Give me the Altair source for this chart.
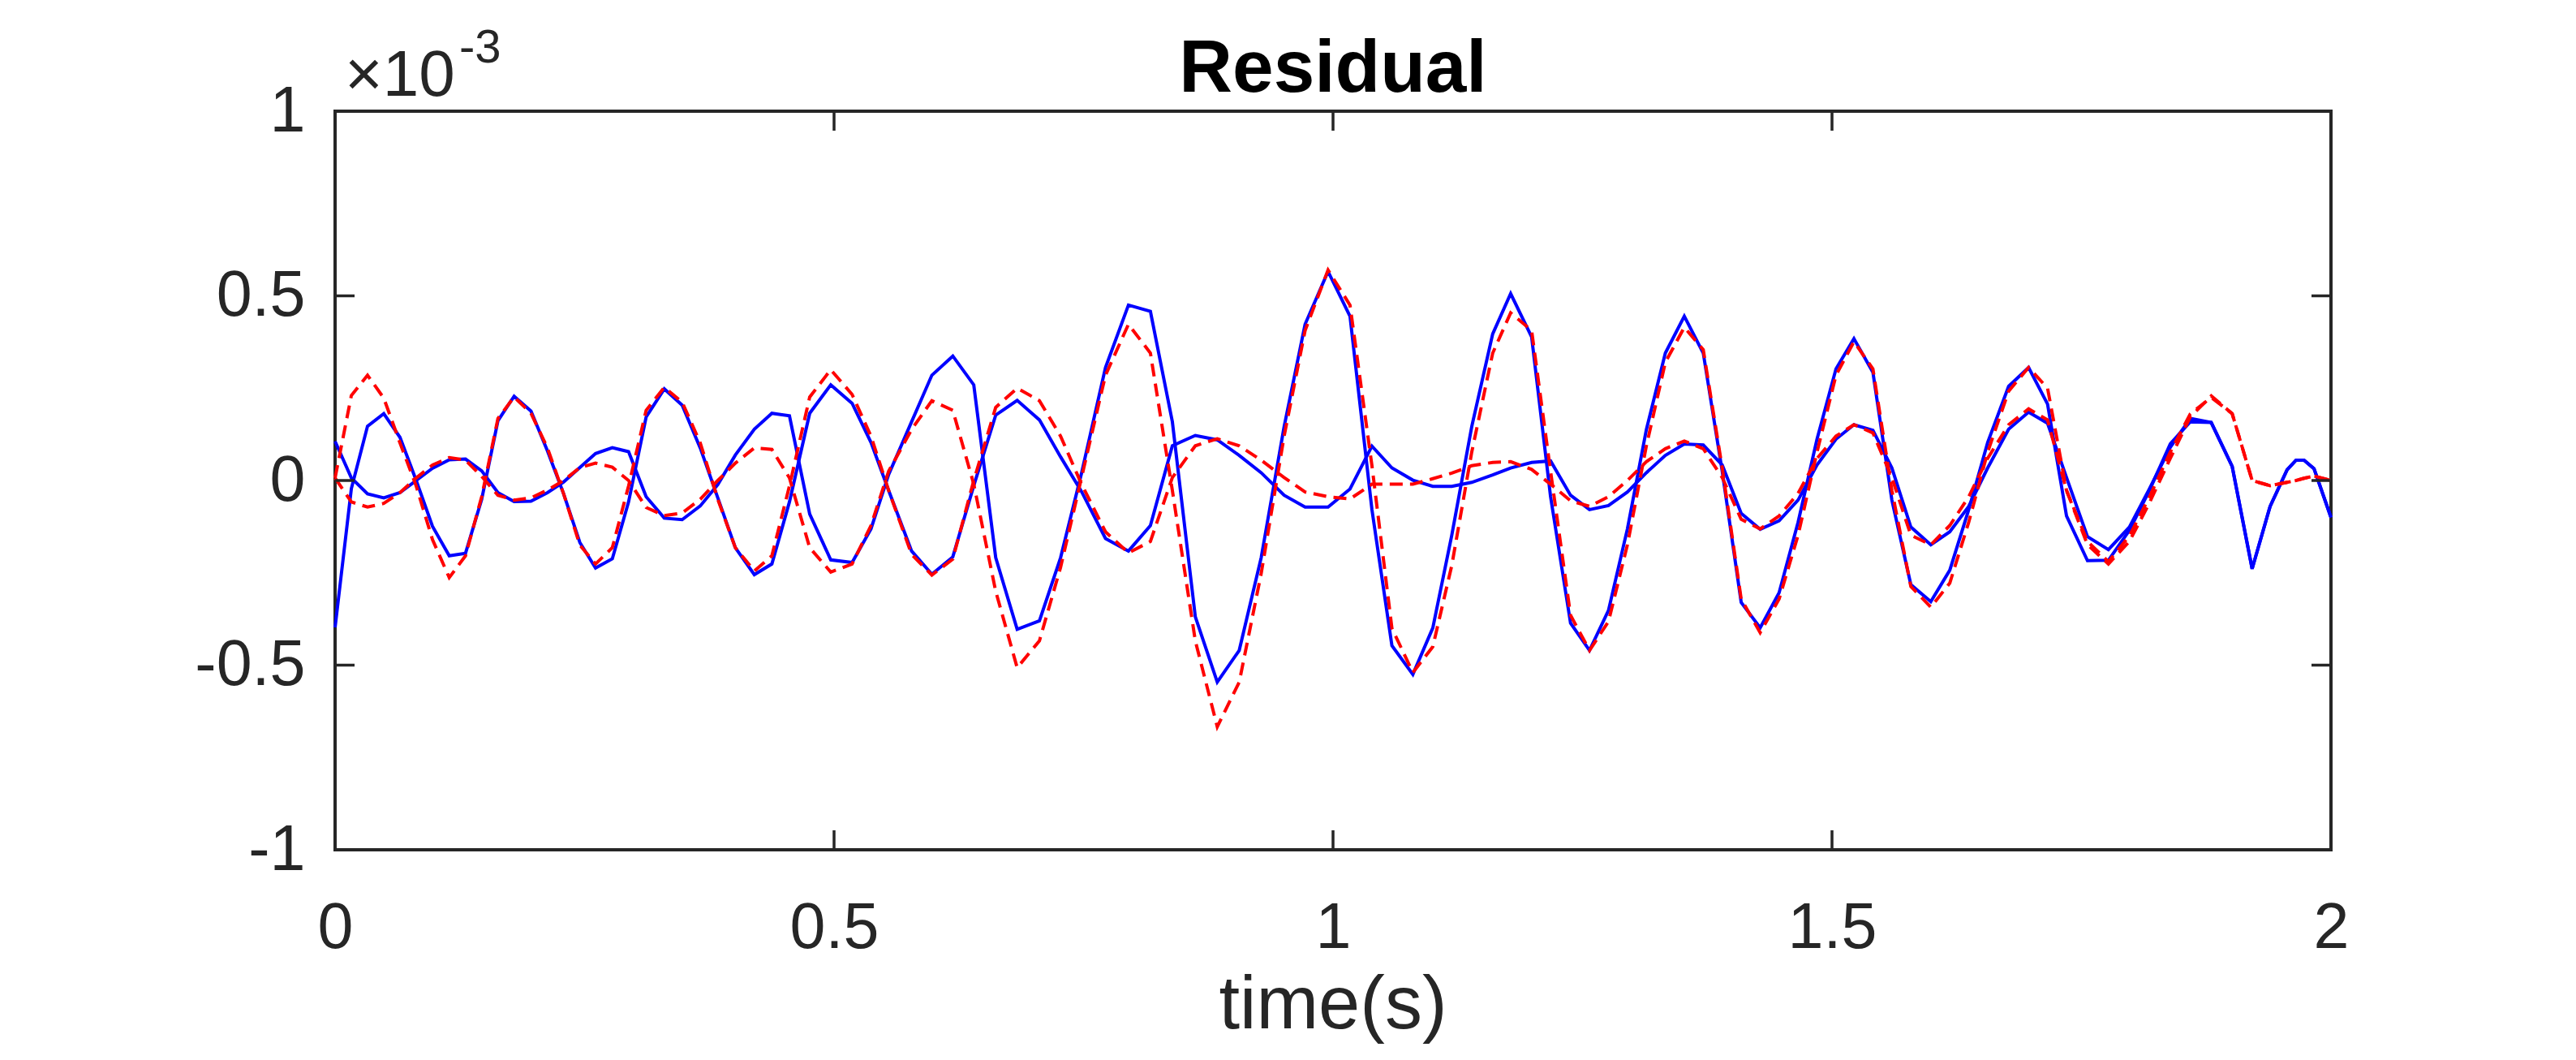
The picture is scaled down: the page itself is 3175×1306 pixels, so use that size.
import altair as alt
import pandas as pd

# ---- data (values in units of 1e-3) ----
T = [0, 0.0163, 0.0325, 0.0488, 0.065, 0.0813, 0.0976, 0.1144, 0.1307, 0.1469, 0.1632, 0.1794, 0.1963, 0.2128, 0.229, 0.2453,
     0.2610, 0.2778, 0.2941, 0.3117, 0.3299, 0.3478, 0.3659, 0.3835, 0.4011, 0.4201, 0.4377, 0.4553, 0.4756, 0.4967,
     0.5181, 0.537, 0.5547, 0.5777, 0.598, 0.619, 0.640, 0.662, 0.6835, 0.7058, 0.727, 0.748,
     0.772, 0.795, 0.817, 0.839, 0.862, 0.884, 0.906, 0.928, 0.951, 0.972, 0.995,
     1.017, 1.039, 1.059, 1.080, 1.100, 1.119, 1.139, 1.160, 1.178, 1.199, 1.218, 1.238, 1.257,
     1.276, 1.295, 1.314, 1.333, 1.352, 1.371, 1.390, 1.409, 1.428, 1.447, 1.466, 1.485, 1.504,
     1.522, 1.541, 1.560, 1.579, 1.599, 1.618, 1.637, 1.656, 1.677, 1.697, 1.716, 1.735, 1.756,
     1.777, 1.798, 1.818, 1.839, 1.859, 1.880, 1.901, 1.921, 1.939, 1.956, 1.965, 1.973, 1.983, 2.0]

BLUE_1 = [-0.398, -0.022, 0.147, 0.181, 0.117, 0.0, -0.124, -0.204, -0.197, -0.051, 0.162, 0.228, 0.188, 0.08, -0.036, -0.168,
          -0.237, -0.212, -0.058, 0.172, 0.248, 0.204, 0.088, -0.047, -0.182, -0.255, -0.226, -0.058, 0.182, 0.259,
          0.209, 0.103, -0.027, -0.191, -0.254, -0.207, -0.014, 0.177, 0.217, 0.164, 0.064, -0.03,
          -0.157, -0.191, -0.122, 0.094, 0.122, 0.11, 0.068, 0.021, -0.04, -0.072, -0.072,
          -0.023, 0.093, 0.034, 0.001, -0.016, -0.016, -0.005, 0.015, 0.034, 0.049, 0.053, -0.04, -0.079,
          -0.068, -0.031, 0.021, 0.068, 0.099, 0.096, 0.042, -0.089, -0.132, -0.109, -0.053, 0.042, 0.112,
          0.151, 0.136, 0.034, -0.126, -0.174, -0.139, -0.07, 0.034, 0.139, 0.185, 0.155, 0.008, -0.152,
          -0.187, -0.126, -0.023, 0.09, 0.168, 0.157, 0.038, -0.239, -0.07, 0.029, 0.055, 0.055, 0.032, -0.1]

BLUE_2 = [0.106, 0.007, -0.036, -0.047, -0.033, 0.0, 0.033, 0.056, 0.058, 0.026, -0.033, -0.057, -0.056, -0.033, -0.004, 0.035,
          0.073, 0.089, 0.078, -0.044, -0.102, -0.106, -0.069, -0.011, 0.069, 0.139, 0.182, 0.175, -0.091, -0.215,
          -0.222, -0.131, 0.016, 0.159, 0.285, 0.337, 0.259, -0.209, -0.403, -0.380, -0.209, 0.02,
          0.306, 0.475, 0.458, 0.159, -0.369, -0.546, -0.46, -0.209, 0.146, 0.423, 0.566,
          0.445, -0.079, -0.447, -0.525, -0.399, -0.148, 0.146, 0.397, 0.506, 0.389, -0.044, -0.386, -0.46,
          -0.352, -0.131, 0.138, 0.345, 0.445, 0.345, 0.025, -0.33, -0.399, -0.304, -0.113, 0.112, 0.302,
          0.384, 0.293, -0.053, -0.282, -0.328, -0.243, -0.079, 0.103, 0.255, 0.306, 0.207, -0.096, -0.217,
          -0.216, -0.135, -0.027, 0.099, 0.159, 0.157, 0.038, -0.239, -0.07, 0.029, 0.055, 0.055, 0.032, -0.1]

RED_1 = [0.007, 0.23, 0.285, 0.223, 0.102, -0.015, -0.16, -0.263, -0.204, -0.044, 0.168, 0.226, 0.182, 0.088, -0.036, -0.175,
         -0.226, -0.182, -0.015, 0.19, 0.252, 0.212, 0.102, -0.051, -0.182, -0.245, -0.204, -0.015, 0.226, 0.30,
         0.233, 0.12, -0.027, -0.2, -0.256, -0.213, 0.0, 0.198, 0.25, 0.216, 0.12, -0.01,
         -0.139, -0.196, -0.165, 0.008, 0.094, 0.113, 0.094, 0.055, 0.008, -0.031, -0.044,
         -0.05, -0.01, -0.01, -0.01, 0.005, 0.02, 0.04, 0.049, 0.051, 0.03, -0.01, -0.055, -0.07,
         -0.044, 0.0, 0.051, 0.086, 0.107, 0.086, 0.008, -0.105, -0.131, -0.096, -0.035, 0.06, 0.12,
         0.151, 0.129, 0.008, -0.148, -0.174, -0.122, -0.044, 0.06, 0.151, 0.194, 0.164, -0.027, -0.174,
         -0.226, -0.165, -0.061, 0.06, 0.172, 0.229, 0.181, 0.0, -0.014, -0.005, 0.0, 0.006, 0.012, 0.0]

RED_2 = [0.007, -0.058, -0.072, -0.062, -0.033, 0.007, 0.042, 0.062, 0.055, 0.011, -0.04, -0.053, -0.047, -0.026, 0.0, 0.035,
         0.047, 0.036, 0.0, -0.073, -0.095, -0.088, -0.051, 0.0, 0.047, 0.088, 0.084, 0.007, -0.182, -0.248,
         -0.226, -0.122, 0.025, 0.138, 0.216, 0.19, -0.01, -0.30, -0.507, -0.434, -0.235, 0.008,
         0.285, 0.423, 0.345, -0.027, -0.434, -0.667, -0.546, -0.252, 0.12, 0.406, 0.57,
         0.475, 0.04, -0.40, -0.52, -0.45, -0.23, 0.077, 0.345, 0.454, 0.406, 0.025, -0.365, -0.46,
         -0.382, -0.174, 0.094, 0.32, 0.415, 0.354, 0.034, -0.321, -0.412, -0.321, -0.148, 0.077, 0.285,
         0.376, 0.302, -0.027, -0.287, -0.343, -0.278, -0.113, 0.077, 0.242, 0.306, 0.25, -0.027, -0.165,
         -0.22, -0.15, -0.045, 0.077, 0.18, 0.225, 0.181, 0.0, -0.014, -0.005, 0.0, 0.006, 0.012, 0.0]

X_TICKS = [0, 0.5, 1, 1.5, 2]
Y_TICKS = [-1, -0.5, 0, 0.5, 1]
TITLE = "Residual"
X_LABEL = "time(s)"
EXP_BASE = "\u00d710"
EXP_POWER = "-3"

# ---- layout / style ----
W, H = 2460, 910
FONT = "Liberation Sans"
AX = "#262626"
TICK_LEN = 24

rows = []
for name, vals in [("b1", BLUE_1), ("b2", BLUE_2), ("r1", RED_1), ("r2", RED_2)]:
    for t, v in zip(T, vals):
        rows.append({"t": t, "v": v, "series": name})
df = pd.DataFrame(rows)

x_scale = alt.Scale(domain=[0, 2], nice=False, zero=False)
y_scale = alt.Scale(domain=[-1, 1], nice=False, zero=False)
lab = "(datum.value < 0 ? '-' : '') + format(abs(datum.value), '~g')"

x_axis = alt.Axis(values=X_TICKS, ticks=False, domain=False, grid=False, labelFont=FONT,
                  labelFontSize=79, labelColor=AX, labelPadding=58, labelExpr=lab,
                  labelFlush=False, labelOverlap=False, title=None)
y_axis = alt.Axis(values=Y_TICKS, ticks=False, domain=False, grid=False, labelFont=FONT,
                  labelFontSize=79, labelColor=AX, labelPadding=37, labelExpr=lab,
                  labelFlush=False, labelOverlap=False, title=None)


def X(field):
    return alt.X(field, scale=x_scale, axis=x_axis)


def Y(field):
    return alt.Y(field, scale=y_scale, axis=y_axis)


blue = alt.Chart(df[df.series.isin(["b1", "b2"])]).mark_line(
    color="#0000FF", strokeWidth=4).encode(
    x=X("t:Q"), y=Y("v:Q"), detail="series:N")

red = alt.Chart(df[df.series.isin(["r1", "r2"])]).mark_line(
    color="#FF0000", strokeWidth=4, strokeDash=[16, 9]).encode(
    x=X("t:Q"), y=Y("v:Q"), detail="series:N")

xt = pd.DataFrame({"tick": X_TICKS})
yt = pd.DataFrame({"tick": Y_TICKS})
tick_style = dict(color=AX, strokeWidth=3.5)
bottom_ticks = alt.Chart(xt).mark_rule(**tick_style).encode(
    x=X("tick:Q"), y=alt.value(H), y2=alt.value(H - TICK_LEN))
top_ticks = alt.Chart(xt).mark_rule(**tick_style).encode(
    x=X("tick:Q"), y=alt.value(0), y2=alt.value(TICK_LEN))
left_ticks = alt.Chart(yt).mark_rule(**tick_style).encode(
    y=Y("tick:Q"), x=alt.value(0), x2=alt.value(TICK_LEN))
right_ticks = alt.Chart(yt).mark_rule(**tick_style).encode(
    y=Y("tick:Q"), x=alt.value(W), x2=alt.value(W - TICK_LEN))


def text_layer(s, x, y, size, align="left", weight="normal", color=AX):
    return alt.Chart(pd.DataFrame({"label": [s]})).mark_text(
        font=FONT, fontSize=size, fontWeight=weight, color=color,
        align=align, baseline="alphabetic").encode(
        x=alt.value(x), y=alt.value(y), text="label:N")


title_mark = text_layer(TITLE, W / 2, -24, 91, align="center", weight="bold", color="#000000")
xlabel_mark = text_layer(X_LABEL, W / 2, H + 220, 92, align="center")
exp_base = text_layer(EXP_BASE, 12, -19, 80)
exp_power = text_layer(EXP_POWER, 153, -60, 58)

chart = alt.layer(
    blue, red, bottom_ticks, top_ticks, left_ticks, right_ticks,
    title_mark, xlabel_mark, exp_base, exp_power
).properties(
    width=W, height=H,
    autosize=alt.AutoSizeParams(type="none"),
    padding={"left": 405, "top": 129, "right": 280, "bottom": 240},
    background="white",
).configure_view(stroke=AX, strokeWidth=4)

chart.save("out.html", embed_options={"renderer": "svg", "actions": False})
